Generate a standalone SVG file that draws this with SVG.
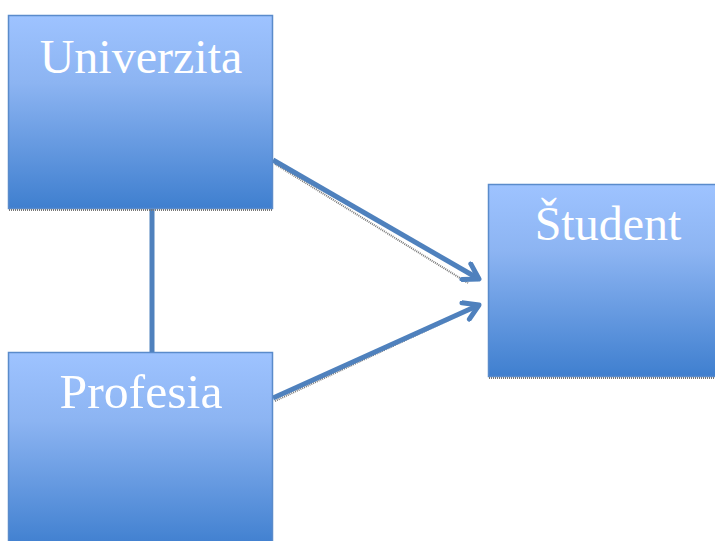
<svg xmlns="http://www.w3.org/2000/svg" width="715" height="541" viewBox="0 0 715 541">
<defs>
<linearGradient id="g" x1="0" y1="0" x2="0" y2="1">
<stop offset="0" stop-color="#9ec3ff"/>
<stop offset="0.35" stop-color="#8cb4f2"/>
<stop offset="1" stop-color="#3f7fcf"/>
</linearGradient>
<marker id="ah" viewBox="0 0 10 10" refX="8" refY="5" markerWidth="4.5" markerHeight="4.5" orient="auto" markerUnits="strokeWidth">
<path d="M1.5,1 L8,5 L1.5,9" fill="none" stroke="#4f81bd" stroke-width="2.2" stroke-linecap="round" stroke-linejoin="round"/>
</marker>
</defs>
<style>
.box{fill:url(#g);stroke:#5a8bcb;stroke-width:1.5}
.shadow{fill:none;stroke:#777;stroke-width:2;stroke-dasharray:1 1}
.lbl{font-family:"Liberation Serif","Times New Roman",serif;font-size:48px;fill:#ffffff;text-anchor:middle}
.conn{stroke:#4f81bd;stroke-width:5;fill:none}
.cshadow{stroke:#777;stroke-width:2;fill:none;stroke-dasharray:1 1}
</style>
<g id="connectors">
<line class="conn" x1="152" y1="209" x2="152" y2="353"/>
<line class="cshadow" x1="275" y1="164" x2="468" y2="283"/>
<line class="cshadow" x1="275" y1="401" x2="468" y2="311"/>
<line class="conn" x1="273" y1="160" x2="479" y2="279" marker-end="url(#ah)"/>
<line class="conn" x1="273" y1="398" x2="479" y2="305" marker-end="url(#ah)"/>
</g>
<g id="univerzita">
<rect class="box" x="8.5" y="15.5" width="264" height="193"/>
<line class="shadow" x1="9" y1="210" x2="273" y2="210"/>
<text class="lbl" x="141" y="73">Univerzita</text>
</g>
<g id="profesia">
<rect class="box" x="8.5" y="352.5" width="264" height="195"/>
<text class="lbl" x="141" y="408" textLength="163" lengthAdjust="spacingAndGlyphs">Profesia</text>
</g>
<g id="student">
<rect class="box" x="488.5" y="184.5" width="240" height="192"/>
<line class="shadow" x1="489" y1="378" x2="715" y2="378"/>
<text class="lbl" x="608" y="240">Študent</text>
</g>
</svg>
